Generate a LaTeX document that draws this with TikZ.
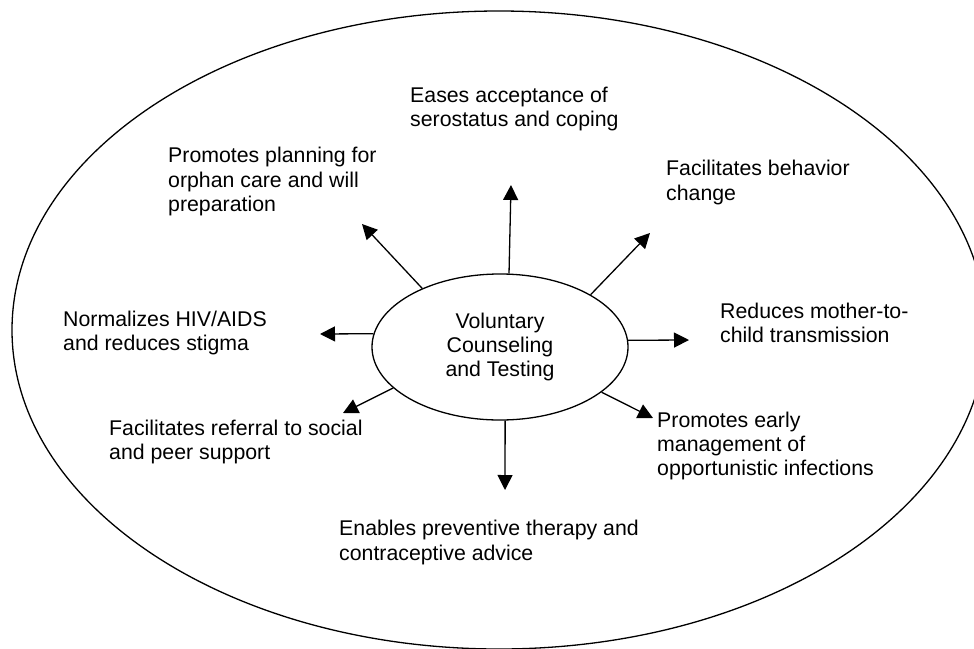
\documentclass[tikz,border=0pt]{standalone}
\usepackage{fontspec}
\setmainfont{Liberation Sans}
\usetikzlibrary{arrows.meta,shapes.geometric}

\begin{document}
\begin{tikzpicture}[x=1pt,y=-1pt,
	benefit/.style={anchor=north west,inner sep=0pt,align=left,font=\fontsize{21.3}{24.4}\selectfont},
	spoke/.style={-{Triangle[length=15pt,width=15pt]},line width=1.3pt}]
			\useasboundingbox (0,0) rectangle (974,648);
			\draw[line width=1.3pt] (499,330) ellipse (487 and 319);
			\node[draw,ellipse,line width=1.3pt,minimum width=256pt,minimum height=146pt,inner sep=0pt,align=center,font=\fontsize{21.3}{24.4}\selectfont] (vct) at (500,347) {Voluntary\\Counseling\\and Testing};
			\node[benefit] (eases) at (410,86.5) {Eases acceptance of\\serostatus and coping};
			\node[benefit] (orphan) at (168,147) {Promotes planning for\\orphan care and will\\preparation};
			\node[benefit] (behav) at (666,160) {Facilitates behavior\\change};
			\node[benefit] (normal) at (63,310.5) {Normalizes HIV/AIDS\\and reduces stigma};
			\node[benefit] (mtct) at (720,302.5) {Reduces mother-to-\\child transmission};
			\node[benefit] (referral) at (109,419.5) {Facilitates referral to social\\and peer support};
			\node[benefit] (oi) at (657,411.5) {Promotes early\\management of\\opportunistic infections};
			\node[benefit] (prevent) at (339,520) {Enables preventive therapy and\\contraceptive advice};
			\coordinate (tipeases) at (511,185);
			\coordinate (tiporphan) at (362,224);
			\coordinate (tipbehav) at (650,233);
			\coordinate (tipnormal) at (320,334);
			\coordinate (tipmtct) at (689,340);
			\coordinate (tipreferral) at (343,413);
			\coordinate (tipoi) at (653,418);
			\coordinate (tipprevent) at (505,490);
			\draw[spoke] (vct.83) -- (tipeases);
			\draw[spoke] (vct.143) -- (tiporphan);
			\draw[spoke] (vct.30) -- (tipbehav);
			\draw[spoke] (vct.174) -- (tipnormal);
			\draw[spoke] (vct.3) -- (tipmtct);
			\draw[spoke] (vct.201) -- (tipreferral);
			\draw[spoke] (vct.336) -- (tipoi);
			\draw[spoke] (vct.274) -- (tipprevent);
		\end{tikzpicture}
\end{document}
